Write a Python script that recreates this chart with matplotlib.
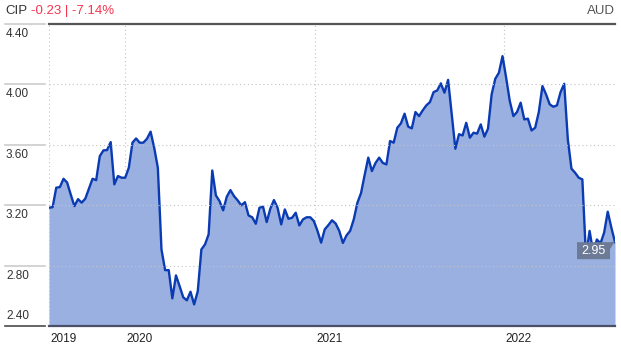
import matplotlib
matplotlib.use("Agg")
import matplotlib.pyplot as plt
import matplotlib.transforms as mtransforms
import matplotlib.dates as mdates
from matplotlib.lines import Line2D
from matplotlib.patches import Polygon
import pandas as pd

plt.rcParams['font.family'] = ['Liberation Sans', 'DejaVu Sans']

ticker = "CIP"
change_text = "-0.23 | -7.14%"
currency = "AUD"
last_label = "2.95"

start_date = "2019-08-07"
prices = [
    3.183, 3.187, 3.316, 3.32, 3.375, 3.35, 3.27, 3.194, 3.24, 3.217,
    3.243, 3.31, 3.375, 3.366, 3.525, 3.563, 3.565, 3.618, 3.338, 3.393,
    3.382, 3.382, 3.448, 3.614, 3.642, 3.614, 3.614, 3.64, 3.687, 3.58,
    3.448, 2.907, 2.77, 2.77, 2.583, 2.735, 2.664, 2.59, 2.57, 2.627,
    2.543, 2.63, 2.907, 2.94, 3.007, 3.43, 3.265, 3.227, 3.166, 3.256,
    3.30, 3.26, 3.232, 3.199, 3.22, 3.132, 3.12, 3.077, 3.183, 3.19,
    3.088, 3.177, 3.234, 3.183, 3.073, 3.172, 3.11, 3.117, 3.15, 3.066,
    3.106, 3.12, 3.12, 3.095, 3.03, 2.952, 3.04, 3.068, 3.10, 3.079,
    3.03, 2.95, 3.00, 3.03, 3.106, 3.216, 3.28, 3.40, 3.515, 3.426,
    3.48, 3.515, 3.48, 3.47, 3.625, 3.614, 3.713, 3.742, 3.806, 3.72,
    3.709, 3.817, 3.79, 3.828, 3.861, 3.883, 3.949, 3.96, 4.007, 3.945,
    4.03, 3.80, 3.574, 3.67, 3.662, 3.746, 3.647, 3.68, 3.674, 3.735,
    3.654, 3.707, 3.934, 4.037, 4.077, 4.187, 4.044, 3.89, 3.79, 3.817,
    3.879, 3.768, 3.773, 3.695, 3.713, 3.817, 3.989, 3.934, 3.868, 3.852,
    3.861, 3.949, 4.004, 3.636, 3.442, 3.415, 3.382, 3.371, 2.86, 3.03,
    2.885, 2.973, 2.947, 3.018, 3.157, 3.051, 2.955,
]
dates = pd.date_range(start_date, periods=len(prices), freq="7D")

y_ticks = [2.40, 2.80, 3.20, 3.60, 4.00, 4.40]
y_tick_labels = ["2.40", "2.80", "3.20", "3.60", "4.00", "4.40"]
x_years = ["2019", "2020", "2021", "2022"]

W, H = 621, 350
fig = plt.figure(figsize=(W / 100, H / 100), dpi=100)
ax = fig.add_axes([49 / W, 24 / H, 566 / W, 302 / H])

line_color = "#0b3bb3"
fill_color = "#9ab0e1"

xnum = mdates.date2num(dates)
ax.fill_between(xnum, prices, y_ticks[0], color=fill_color, linewidth=0, zorder=2)
ax.plot(xnum, prices, color=line_color, linewidth=1.7, zorder=3)

ax.set_ylim(y_ticks[0], y_ticks[-1])
ax.set_xlim(xnum[0], xnum[-1])

for s in ax.spines.values():
    s.set_visible(False)
ax.set_xticks([])
ax.set_yticks([])
ax.patch.set_alpha(0)

grid_kw = dict(color="#c4c4c4", linewidth=0.8, linestyle=(0, (1, 2.5)))
for yv in y_ticks[1:-1]:
    ax.axhline(yv, zorder=4, **grid_kw)
year_starts = [mdates.date2num(pd.Timestamp(f"{y}-01-01")) for y in x_years[1:]]
for d in year_starts:
    ax.axvline(d, zorder=1, **grid_kw)
ax.axvline(xnum[0], zorder=1, **grid_kw)

# top and bottom frame lines
ax.axhline(y_ticks[-1], color="#555555", linewidth=1.6, zorder=5, clip_on=False)
ax.axhline(y_ticks[0], color="#4a5068", linewidth=1.6, zorder=5, clip_on=False)

# left tick segments and labels
blend = mtransforms.blended_transform_factory(fig.transFigure, ax.transData)
for yv, lab in zip(y_ticks, y_tick_labels):
    bottom_tick = yv == y_ticks[0]
    col = "#4a4a4a" if bottom_tick else "#cccccc"
    fig.add_artist(Line2D([5 / W, 45 / W], [yv, yv], transform=blend, color=col, linewidth=1.2))
    if bottom_tick:
        tr = mtransforms.offset_copy(blend, fig=fig, x=0, y=4, units="dots")
        fig.text(6 / W, yv, lab, transform=tr, ha="left", va="bottom", fontsize=8.5, color="#333333")
    else:
        tr = mtransforms.offset_copy(blend, fig=fig, x=0, y=-4, units="dots")
        fig.text(6 / W, yv, lab, transform=tr, ha="left", va="top", fontsize=8.5, color="#333333")

# year labels
xblend = mtransforms.blended_transform_factory(ax.transData, fig.transFigure)
year_positions = [xnum[0]] + year_starts
for d, lab in zip(year_positions, x_years):
    tr = mtransforms.offset_copy(xblend, fig=fig, x=1.5, y=0, units="dots")
    fig.text(d, 1 - 339 / H, lab, transform=tr, ha="left", va="center", fontsize=8.5, color="#222222")

# header
fig.text(5 / W, 1 - 11 / H, ticker, ha="left", va="center", fontsize=9.5, color="#333333")
fig.text(31 / W, 1 - 11 / H, change_text, ha="left", va="center", fontsize=9.5, color="#f5354f")
fig.text(615 / W, 1 - 11 / H, currency, ha="right", va="center", fontsize=9.5, color="#555555")

# last value label box
fig.canvas.draw()
px, py = ax.transData.transform((xnum[-1], prices[-1]))
box_w, box_h = 33, 17
right = px - 5
left = right - box_w
top = py
bottom = py - box_h
poly = Polygon([[left, top], [right, top], [px, py + 1], [right, top - 7],
                [right, bottom], [left, bottom]],
               closed=True, transform=None, facecolor="#6d7a96", edgecolor="none", zorder=6)
fig.add_artist(poly)
inv = fig.transFigure.inverted()
cx, cy = inv.transform(((left + right) / 2, (top + bottom) / 2))
fig.text(cx, cy, last_label, ha="center", va="center", fontsize=9, color="white", zorder=7)

fig.savefig("out.png", dpi=100)
